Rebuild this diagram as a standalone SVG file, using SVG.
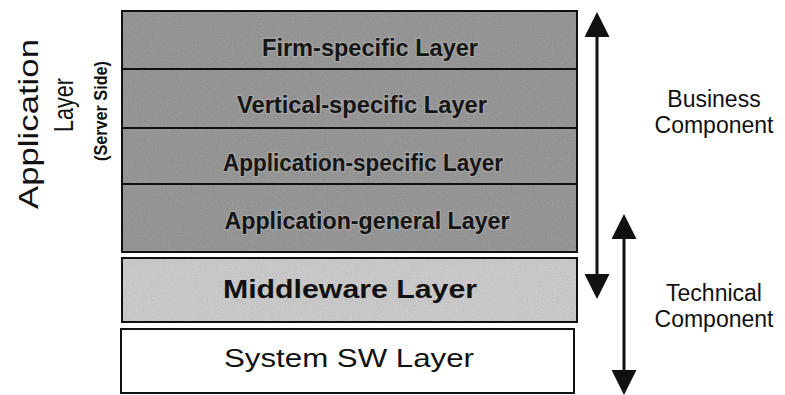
<svg xmlns="http://www.w3.org/2000/svg" width="785" height="395" viewBox="0 0 785 395">
  <style>
    .box { stroke: #111; stroke-width: 2; }
    .app { fill: #8a8a8a; }
    .mid { fill: #cbcbcb; }
    .sys { fill: #ffffff; }
    .div { stroke: #111; stroke-width: 2; }
    .tex { opacity: 0.22; }
    .lt { font-family: "Liberation Sans", Arial, sans-serif; fill: #151515; font-size: 23px; font-weight: bold; text-anchor: middle; stroke: #a4a4a4; stroke-width: 2.5; paint-order: stroke; }
    .big { font-family: "Liberation Sans", Arial, sans-serif; fill: #111; font-size: 26px; text-anchor: middle; }
    .side { font-family: "Liberation Sans", Arial, sans-serif; fill: #111; text-anchor: middle; }
    .conn { stroke: #111; stroke-width: 3; fill: none; }
  </style>
  <defs>
    <marker id="head" viewBox="0 0 24 24" refX="0" refY="12" markerWidth="25" markerHeight="25" markerUnits="userSpaceOnUse" orient="auto-start-reverse">
      <path d="M0,0 L24,12 L0,24 z" fill="#111"/>
    </marker>
    <filter id="noise" x="0" y="0" width="1" height="1" filterUnits="objectBoundingBox">
      <feTurbulence type="fractalNoise" baseFrequency="0.8" numOctaves="2" seed="7"/>
      <feColorMatrix type="matrix" values="0.33 0.33 0.33 0 0  0.33 0.33 0.33 0 0  0.33 0.33 0.33 0 0  0 0 0 0 1"/>
    </filter>
  </defs>

  <g id="application-layer-label">
    <text class="side" font-size="28" transform="translate(38,124) rotate(-90)" textLength="170" lengthAdjust="spacingAndGlyphs">Application</text>
    <text class="side" font-size="27" transform="translate(73,105) rotate(-90)" textLength="54" lengthAdjust="spacingAndGlyphs">Layer</text>
    <text class="side" font-size="19" font-weight="bold" transform="translate(107,111) rotate(-90)" textLength="100" lengthAdjust="spacingAndGlyphs">(Server Side)</text>
  </g>

  <g id="application-layer">
    <rect class="box app" x="122" y="11" width="455" height="241"/>
    <rect class="tex" x="123" y="12" width="453" height="239" filter="url(#noise)"/>
    <line class="div" x1="122" y1="69" x2="577" y2="69"/>
    <line class="div" x1="122" y1="128" x2="577" y2="128"/>
    <line class="div" x1="122" y1="184" x2="577" y2="184"/>
    <rect x="122" y="11" width="455" height="241" fill="none" class="box"/>
  </g>
  <g id="firm-specific">
    <text class="lt" x="370" y="56" textLength="216" lengthAdjust="spacingAndGlyphs">Firm-specific Layer</text>
  </g>
  <g id="vertical-specific">
    <text class="lt" x="362" y="113" textLength="250" lengthAdjust="spacingAndGlyphs">Vertical-specific Layer</text>
  </g>
  <g id="application-specific">
    <text class="lt" x="363" y="171" textLength="280" lengthAdjust="spacingAndGlyphs">Application-specific Layer</text>
  </g>
  <g id="application-general">
    <text class="lt" x="367" y="229" textLength="285" lengthAdjust="spacingAndGlyphs">Application-general Layer</text>
  </g>

  <g id="middleware-layer">
    <rect class="box mid" x="122" y="258" width="455" height="64"/>
    <rect class="tex" x="123" y="259" width="453" height="62" filter="url(#noise)" opacity="0.15"/>
    <rect x="122" y="258" width="455" height="64" fill="none" class="box"/>
    <text class="big" x="350" y="298" font-weight="bold" textLength="254" lengthAdjust="spacingAndGlyphs">Middleware Layer</text>
  </g>

  <g id="system-sw-layer">
    <rect class="box sys" x="121" y="329" width="453" height="64"/>
    <text class="big" x="349" y="367" textLength="250" lengthAdjust="spacingAndGlyphs">System SW Layer</text>
  </g>

  <g id="business-component">
    <text class="side" font-size="23" x="714" y="107">Business</text>
    <text class="side" font-size="23" x="714" y="133">Component</text>
  </g>
  <g id="technical-component">
    <text class="side" font-size="23" x="714" y="301">Technical</text>
    <text class="side" font-size="23" x="714" y="327">Component</text>
  </g>

  <g id="connectors">
    <line class="conn" x1="597" y1="37" x2="597" y2="274" marker-start="url(#head)" marker-end="url(#head)"/>
    <line class="conn" x1="624" y1="239" x2="624" y2="370" marker-start="url(#head)" marker-end="url(#head)"/>
  </g>
</svg>
